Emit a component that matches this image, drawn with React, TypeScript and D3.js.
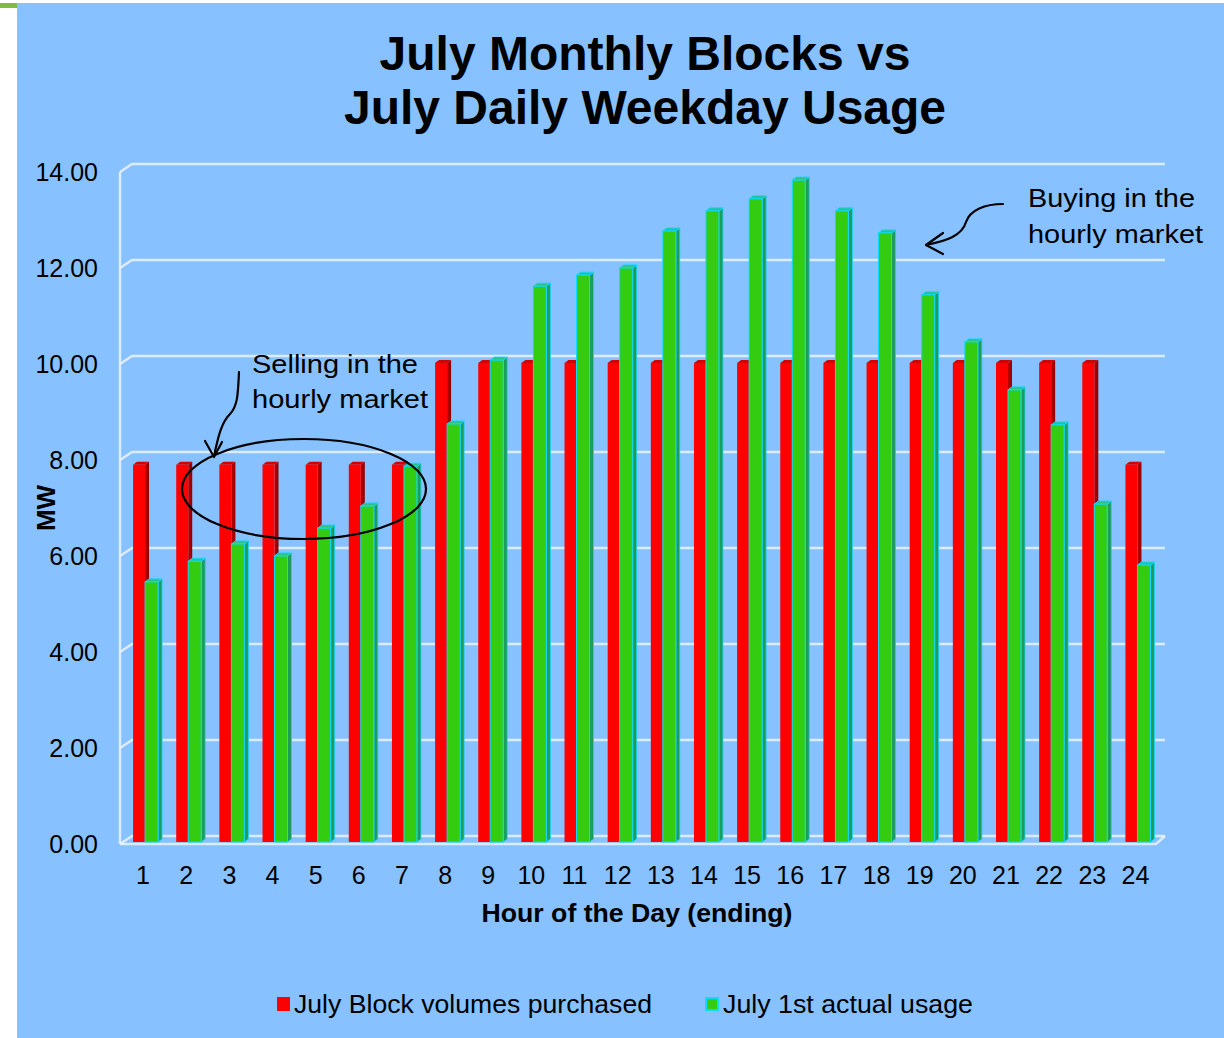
import React from "react";
import * as d3 from "d3";

const hours = ["1","2","3","4","5","6","7","8","9","10","11","12","13","14","15","16","17","18","19","20","21","22","23","24"];
const blockVolumes = [7.88,7.88,7.88,7.88,7.88,7.88,7.88,10,10,10,10,10,10,10,10,10,10,10,10,10,10,10,10,7.88];
const actualUsage = [5.44,5.87,6.23,5.98,6.56,7.02,7.85,8.73,10.06,11.6,11.83,11.98,12.75,13.17,13.42,13.81,13.17,12.71,11.42,10.44,9.44,8.71,7.06,5.79];
const yTicks = [0,2,4,6,8,10,12,14];
const titleLines = ["July Monthly Blocks vs", "July Daily Weekday Usage"];
const seriesNames = ["July Block volumes purchased", "July 1st actual usage"];

const W = 1224, H = 1038;
const DX = 12, DY = 8; // wall depth
const BDX = 4, BDY = 3; // bar depth

export default function App() {
  const x = d3.scaleBand<string>().domain(hours).range([120.5, 1156]).paddingInner(0).paddingOuter(0);
  const y = d3.scaleLinear().domain([0, 14]).range([844, 172]);
  const left = 120, right = 1156;
  const bw = 12, gw = 13;

  const bar = (key: string, xl: number, w: number, v: number, front: string, side: string, cap: string, stroke?: string) => {
    const yt = y(v) - 1;
    const yb = y(0) - 2;
    return (
      <g key={key}>
        <polygon points={`${xl + w},${yt} ${xl + w + BDX},${yt - BDY} ${xl + w + BDX},${yb - BDY} ${xl + w},${yb}`} fill={side} stroke={stroke || "none"} strokeWidth={stroke ? 0.8 : 0} />
        <polygon points={`${xl},${yt} ${xl + w},${yt} ${xl + w + BDX},${yt - BDY} ${xl + BDX},${yt - BDY}`} fill={cap} stroke={stroke || "none"} strokeWidth={stroke ? 1 : 0} />
        <rect x={xl} y={yt} width={w} height={yb - yt} fill={front} stroke={stroke || "none"} strokeWidth={stroke ? 1 : 0} />
      </g>
    );
  };

  const font = "'Liberation Sans', Arial, sans-serif";

  return (
    <svg width={W} height={H} style={{ position: "absolute", left: 0, top: 0, display: "block" }} fontFamily={font}>
      <defs>
        <linearGradient id="redSide" x1="0" x2="1" y1="0" y2="0">
          <stop offset="0" stopColor="#c00000" />
          <stop offset="1" stopColor="#8a0000" />
        </linearGradient>
      </defs>
      <rect x={0} y={0} width={W} height={H} fill="#ffffff" />
      <rect x={0} y={3} width={W} height={1} fill="#9fcf6f" />
      <rect x={0} y={3} width={17} height={5} fill="#7dbd45" />
      <rect x={17} y={4} width={W - 17} height={H - 4} fill="#87c1ff" />

      {/* title */}
      {titleLines.map((t, i) => (
        <text key={t} x={645} y={70 + i * 54} textAnchor="middle" fontSize={48} fontWeight="bold" fill="#000">{t}</text>
      ))}

      {/* walls and gridlines */}
      <g stroke="#e6f1ff" strokeWidth={2.5} fill="none" strokeOpacity={0.9}>
        <line x1={left} y1={y(0)} x2={left} y2={y(14)} />
        {yTicks.map(t => (
          <polyline key={t} points={`${left},${y(t)} ${left + DX},${y(t) - DY} ${right + 9},${y(t) - DY}`} />
        ))}
        <polyline points={`${left},${y(0)} ${right},${y(0)} ${right + 9},${y(0) - DY}`} />
      </g>

      {/* bars */}
      {hours.map((h, i) => {
        const c = (x(h) as number) + x.bandwidth() / 2;
        return (
          <g key={h}>
            {bar("r" + h, c - 9, bw, blockVolumes[i], "#ff0000", "url(#redSide)", "#d40000")}
            {bar("g" + h, c + 3, gw, actualUsage[i], "#33cc11", "#1f9c5c", "#2cbf86", "#10d8ff")}
          </g>
        );
      })}

      {/* y ticks */}
      {yTicks.map(t => (
        <text key={t} x={98} y={y(t) + 9} textAnchor="end" fontSize={25} fill="#000">{t.toFixed(2)}</text>
      ))}
      {/* x ticks */}
      {hours.map(h => (
        <text key={h} x={(x(h) as number) + x.bandwidth() / 2 + 1} y={884} textAnchor="middle" fontSize={25} fill="#000">{h}</text>
      ))}
      <text x={637} y={922} textAnchor="middle" fontSize={25} fontWeight="bold" textLength={311} lengthAdjust="spacingAndGlyphs">Hour of the Day (ending)</text>
      <text transform="translate(55,508) rotate(-90)" textAnchor="middle" fontSize={26} fontWeight="bold">MW</text>

      {/* annotations */}
      <text x={252} y={373} fontSize={25} textLength={166} lengthAdjust="spacingAndGlyphs">Selling in the</text>
      <text x={252} y={408} fontSize={25} textLength={176} lengthAdjust="spacingAndGlyphs">hourly market</text>
      <text x={1028} y={207} fontSize={25} textLength={167} lengthAdjust="spacingAndGlyphs">Buying in the</text>
      <text x={1028} y={243} fontSize={25} textLength={175} lengthAdjust="spacingAndGlyphs">hourly market</text>
      <g fill="none" stroke="#000" strokeWidth={2.2} strokeLinecap="round" strokeLinejoin="round">
        <ellipse cx={304} cy={489} rx={122} ry={50} />
        <path d="M239,372 C238,392 238,406 230,414 C221,423 218,438 214,456" />
        <path d="M205,441 L214,457 L222,442" />
        <path d="M1003,204 C985,204 970,210 966,222 C962,236 946,241 926,245" />
        <path d="M943,233 L926,245 L943,254" />
      </g>

      {/* legend */}
      <rect x={277} y={997} width={13} height={14} fill="#ff0000" />
      <text x={294} y={1013} fontSize={25} textLength={358} lengthAdjust="spacingAndGlyphs">{seriesNames[0]}</text>
      <rect x={706} y={998} width={12} height={12} fill="#33cc11" stroke="#10d8ff" strokeWidth={2} />
      <text x={723} y={1013} fontSize={25} textLength={250} lengthAdjust="spacingAndGlyphs">{seriesNames[1]}</text>
    </svg>
  );
}
